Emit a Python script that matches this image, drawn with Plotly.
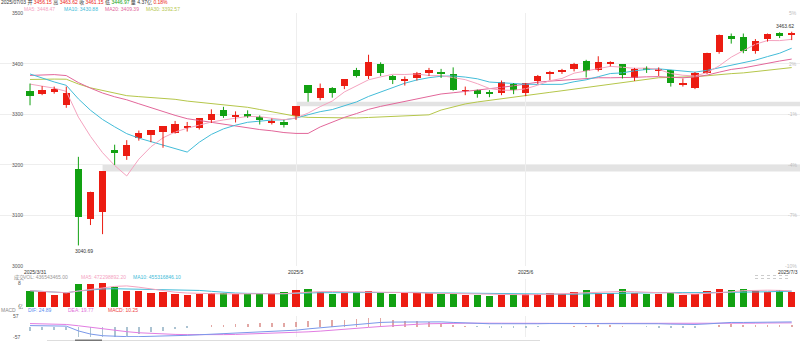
import plotly.graph_objects as go
import pandas as pd

# ---------------- data ----------------
dates = ["2025-03-31", "2025-04-01", "2025-04-02", "2025-04-03", "2025-04-07", "2025-04-08",
         "2025-04-09", "2025-04-10", "2025-04-11", "2025-04-14", "2025-04-15", "2025-04-16",
         "2025-04-17", "2025-04-18", "2025-04-21", "2025-04-22", "2025-04-23", "2025-04-24",
         "2025-04-25", "2025-04-28", "2025-04-29", "2025-04-30", "2025-05-06", "2025-05-07",
         "2025-05-08", "2025-05-09", "2025-05-12", "2025-05-13", "2025-05-14", "2025-05-15",
         "2025-05-16", "2025-05-19", "2025-05-20", "2025-05-21", "2025-05-22", "2025-05-23",
         "2025-05-26", "2025-05-27", "2025-05-28", "2025-05-29", "2025-05-30", "2025-06-03",
         "2025-06-04", "2025-06-05", "2025-06-06", "2025-06-09", "2025-06-10", "2025-06-11",
         "2025-06-12", "2025-06-13", "2025-06-16", "2025-06-17", "2025-06-18", "2025-06-19",
         "2025-06-20", "2025-06-23", "2025-06-24", "2025-06-25", "2025-06-26", "2025-06-27",
         "2025-06-30", "2025-07-01", "2025-07-02", "2025-07-03"]

opens = [3345, 3340, 3344, 3318, 3191, 3092, 3106, 3228, 3218, 3252, 3259, 3264,
         3263, 3272, 3273, 3289, 3309, 3295, 3301, 3294, 3283, 3285, 3297, 3357,
         3331, 3352, 3356, 3388, 3376, 3400, 3376, 3366, 3372, 3381, 3384, 3379,
         3346, 3348, 3342, 3341, 3360, 3341, 3366, 3379, 3385, 3389, 3405, 3387,
         3400, 3399, 3371, 3390, 3387, 3387, 3359.5, 3351, 3382, 3422, 3455, 3452,
         3425, 3449, 3460, 3456.15]
highs = [3361, 3356, 3355, 3355, 3216, 3147, 3187, 3240, 3249, 3268, 3268, 3277,
         3287, 3285, 3292, 3310, 3315, 3306, 3308, 3298, 3292, 3289, 3316, 3358,
         3361, 3354, 3370, 3392, 3418, 3403, 3378, 3375, 3384, 3392, 3390, 3393,
         3355, 3349, 3348, 3367, 3362, 3362, 3378, 3386, 3390, 3402, 3408, 3415,
         3405, 3399, 3392, 3395, 3393, 3388, 3371, 3384, 3422, 3458, 3460, 3460,
         3449, 3460, 3462.5, 3463.62]
lows = [3318, 3338, 3341, 3313, 3040.69, 3081, 3063, 3200, 3210, 3248, 3245, 3234,
        3262, 3266, 3270, 3283, 3293, 3284, 3293, 3280, 3280, 3274, 3289, 3325,
        3328, 3333, 3350, 3373, 3370, 3376, 3360, 3357, 3367, 3376, 3372, 3347,
        3338, 3333, 3334, 3338, 3340, 3336, 3360, 3368, 3380, 3385, 3373, 3385,
        3395, 3371, 3366, 3382, 3376, 3355, 3355, 3350, 3380, 3420, 3440, 3421,
        3420, 3444, 3451, 3446.97]
closes = [3335.75, 3348.44, 3350.13, 3342.01, 3096.58, 3145.55, 3186.81, 3223.64,
          3238.23, 3262.81, 3267.66, 3276.00, 3280.34, 3276.73, 3291.43, 3299.76,
          3296.36, 3297.29, 3295.06, 3288.41, 3286.65, 3279.03, 3316.11, 3342.67,
          3352.00, 3342.00, 3369.24, 3374.87, 3403.95, 3380.82, 3367.46, 3367.58,
          3380.48, 3387.57, 3380.19, 3348.37, 3346.84, 3340.69, 3339.93, 3363.45,
          3347.49, 3361.98, 3376.20, 3384.10, 3385.36, 3399.77, 3384.82, 3402.32,
          3402.66, 3377.00, 3388.81, 3387.40, 3388.81, 3362.11, 3359.90, 3381.58,
          3420.57, 3455.97, 3448.45, 3424.23, 3444.43, 3457.75, 3454.79, 3461.15]
# closes of the 29 sessions before 2025-03-31 (moving-average warm-up)
prior_closes = [3324.49, 3351.54, 3350.78, 3379.11, 3373.03, 3346.04, 3380.21, 3388.06,
                3320.90, 3316.93, 3324.21, 3341.96, 3381.10, 3372.55, 3366.16, 3379.83,
                3371.92, 3358.73, 3419.56, 3426.13, 3429.76, 3426.43, 3408.95, 3364.83,
                3370.03, 3369.98, 3368.70, 3373.75, 3351.31]
# volume, 亿
volumes = [4.73, 4.28, 3.52, 4.08, 6.54, 6.54, 6.82, 5.77, 4.73, 4.73, 4.00, 4.28,
           3.80, 3.61, 3.80, 4.00, 4.00, 3.80, 3.80, 3.80, 3.80, 4.28, 4.85, 5.21,
           4.28, 3.89, 4.17, 4.28, 4.65, 4.28, 3.89, 4.00, 4.00, 4.00, 3.89, 3.89,
           3.52, 3.52, 3.32, 3.52, 3.72, 3.89, 3.72, 4.00, 3.72, 4.37, 4.93, 4.08,
           4.08, 5.21, 4.00, 3.80, 3.72, 4.17, 3.52, 3.80, 4.65, 5.13, 4.93, 5.21,
           4.65, 4.45, 4.85, 4.36543465]
dif = [5, 5, 4, 2, -24, -41, -50, -54, -55, -55,
       -54, -52, -50, -48, -45, -42, -39, -36, -33, -31, -29, -27,
       -20, -13, -7, -3,
       3, 10, 18, 22, 24, 25, 26, 26, 25, 22,
       19, 17, 15, 15, 14, 14, 15, 16, 16, 17,
       17, 18, 19, 18, 17, 16, 15, 13, 11, 11,
       14, 19, 22, 22, 23, 24, 24, 24.89]
dea = [16, 15, 13, 11, 4, -5, -14, -22, -28, -34,
       -38, -41, -43, -44, -45, -45, -44, -43, -41, -40, -38, -36,
       -33, -29, -25, -21,
       -16, -11, -5, 0, 5, 9, 12, 15, 17, 18,
       18, 18, 17.5, 17, 16.5, 16, 16, 16, 16, 16,
       16, 16.5, 17, 17, 17, 17, 16.5, 16, 15, 14,
       14, 15, 16, 17, 18, 19, 19.5, 19.77]
gap_dates = ["2025-04-09", "2025-05-06"]          # unfilled up-gaps (after these sessions)
price_ticks = [3500, 3400, 3300, 3200, 3100, 3000]
pct_ticks = ["5%", "2%", "-1%", "-4%", "-7%", "-10%"]
label_dates = ["2025-03-31", "2025-05-06", "2025-06-03", "2025-07-03"]
label_texts = ["2025/3/31", "2025/5", "2025/6", "2025/7/3"]
vol_header = ["成交", "VOL: 436543465.00", "MA5: 472298892.20", "MA10: 455316846.10"]
macd_header = ["MACD", "DIF: 24.89", "DEA: 19.77", "MACD: 10.25"]

# ---------------- derived ----------------
W, H = 800, 341
RED, GREEN = "#ec1c12", "#12a112"
C_MA5, C_MA10, C_MA20, C_MA30 = "#f4a3bf", "#43bcd8", "#e2679a", "#b5c64a"
C_DIF, C_DEA = "#7a98ea", "#e27de2"
FONT = "Liberation Sans, Noto Sans CJK SC, sans-serif"

n = len(dates)
idx = list(range(n))
pos = {d: i for i, d in enumerate(dates)}
all_c = pd.Series(prior_closes + closes)
ma = {w: all_c.rolling(w).mean().iloc[-n:].tolist() for w in (5, 10, 20, 30)}
vs = pd.Series(volumes)
vma5 = vs.rolling(5, min_periods=1).mean().tolist()
vma10 = vs.rolling(10, min_periods=1).mean().tolist()
up = [c >= o for o, c in zip(opens, closes)]
cols = [RED if u else GREEN for u in up]
hist = [2 * (a - b) for a, b in zip(dif, dea)]

x_range = [-30 / 12.08, (n - 1) + 8.3 / 12.08]


def py(px):
    return 1 - px / H


dom_price = [py(266), py(13.3)]
dom_vol = [py(307.5), py(279.1)]
dom_macd = [py(337), py(316)]

fig = go.Figure()

# moving averages
for w, c in ((30, C_MA30), (20, C_MA20), (10, C_MA10), (5, C_MA5)):
    fig.add_trace(go.Scatter(x=idx, y=ma[w], mode="lines", line=dict(color=c, width=1),
                             hoverinfo="skip", xaxis="x", yaxis="y"))

# wicks
for flag, c in ((True, RED), (False, GREEN)):
    wx, wy = [], []
    for i in idx:
        if up[i] == flag:
            wx += [i, i, None]
            wy += [lows[i], highs[i], None]
    fig.add_trace(go.Scatter(x=wx, y=wy, mode="lines", line=dict(color=c, width=1),
                             hoverinfo="skip", xaxis="x", yaxis="y"))

# bodies
bases = [min(o, c) for o, c in zip(opens, closes)]
heights = [max(abs(c - o), 1.3) for o, c in zip(opens, closes)]
fig.add_trace(go.Bar(x=idx, y=heights, base=bases, width=0.6, marker=dict(color=cols, line=dict(width=0)),
                     hoverinfo="skip", xaxis="x", yaxis="y"))

# volume
fig.add_trace(go.Bar(x=idx, y=volumes, width=0.6, marker=dict(color=cols, line=dict(width=0)),
                     hoverinfo="skip", xaxis="x2", yaxis="y2"))
fig.add_trace(go.Scatter(x=idx, y=vma10, mode="lines", line=dict(color=C_MA10, width=1),
                         hoverinfo="skip", xaxis="x2", yaxis="y2"))
fig.add_trace(go.Scatter(x=idx, y=vma5, mode="lines", line=dict(color=C_MA5, width=1),
                         hoverinfo="skip", xaxis="x2", yaxis="y2"))

# MACD
fig.add_trace(go.Bar(x=idx, y=hist, width=0.06, opacity=0.75,
                     marker=dict(color=["#d98a86" if h >= 0 else "#8fb0c4" for h in hist], line=dict(width=0)),
                     hoverinfo="skip", xaxis="x3", yaxis="y3"))
fig.add_trace(go.Scatter(x=idx, y=dea, mode="lines", line=dict(color=C_DEA, width=1),
                         hoverinfo="skip", xaxis="x3", yaxis="y3"))
fig.add_trace(go.Scatter(x=idx, y=dif, mode="lines", line=dict(color=C_DIF, width=1),
                         hoverinfo="skip", xaxis="x3", yaxis="y3"))

# gap bands
shapes = []
for d in gap_dates:
    i = pos[d]
    shapes.append(dict(type="rect", xref="x", yref="y", x0=i, x1=x_range[1],
                       y0=highs[i], y1=lows[i + 1], fillcolor="#e3e3e3", line=dict(width=0), layer="below"))
# navigator remnants at the bottom
shapes.append(dict(type="line", xref="paper", yref="paper", x0=47 / W, x1=540 / W, y0=py(340.5), y1=py(340.5),
                   line=dict(color="#dddddd", width=1)))
shapes.append(dict(type="line", xref="paper", yref="paper", x0=75 / W, x1=102 / W, y0=py(340.5), y1=py(340.5),
                   line=dict(color="#777777", width=2)))
for yy in (275.5, 278.5):
    shapes.append(dict(type="line", xref="paper", yref="paper", x0=755 / W, x1=790 / W, y0=py(yy), y1=py(yy),
                       line=dict(color="#cccccc", width=1, dash="dot")))

ann = []


def txt(x, y, s, color="#555", xanchor="left", size=5, **kw):
    d = dict(x=x, y=y, text=s, showarrow=False, xanchor=xanchor, yanchor="middle",
             font=dict(family=FONT, size=size, color=color), borderpad=0)
    d.update(kw)
    if "xref" not in d:
        d["xref"] = "paper"
    if "yref" not in d:
        d["yref"] = "paper"
    ann.append(d)


# header line 1
prev_c = closes[-2]


def pc(v):
    return RED if v >= prev_c else GREEN


d_last = dates[-1].replace("-", "/")
line1 = (f"{d_last} 开 <span style='color:{pc(opens[-1])}'>{opens[-1]:.2f}</span> "
         f"高 <span style='color:{pc(highs[-1])}'>{highs[-1]:.2f}</span> "
         f"收 <span style='color:{pc(closes[-1])}'>{closes[-1]:.2f}</span> "
         f"低 <span style='color:{pc(lows[-1])}'>{lows[-1]:.2f}</span> "
         f"量 {volumes[-1]:.2f}亿 "
         f"<span style='color:{pc(closes[-1])}'>{(closes[-1] / prev_c - 1) * 100:.2f}%</span>")
txt(0, py(2.6), line1, color="#333")
for xp, w, c in ((23, 5, C_MA5), (63, 10, C_MA10), (104, 20, C_MA20), (145, 30, C_MA30)):
    txt(xp / W, py(8.8), f"MA{w}: {ma[w][-1]:.2f}", color=c)

# price tick labels (left) and percentage labels (right)
for p, pct in zip(price_ticks, pct_ticks):
    txt(11 / W, p, str(p), yref="y", color="#555")
    txt(798 / W, p, pct, yref="y", color="#bdbdbd", xanchor="right")

# extreme labels
imin = min(idx, key=lambda i: lows[i])
imax = max(idx, key=lambda i: highs[i])
ann.append(dict(x=imin, y=lows[imin], xref="x", yref="y", text=f"{lows[imin]:.2f}", showarrow=False,
                xanchor="left", yanchor="top", xshift=-5, yshift=-1,
                font=dict(family=FONT, size=5, color="#333")))
ann.append(dict(x=imax, y=highs[imax], xref="x", yref="y", text=f"{highs[imax]:.2f}", showarrow=False,
                xanchor="right", yanchor="bottom", xshift=4, yshift=1,
                font=dict(family=FONT, size=5, color="#333")))

# date labels
for k, (d, t) in enumerate(zip(label_dates, label_texts)):
    i = pos[d]
    if k == 0:
        anchor, sh = "left", -7
    elif k == len(label_dates) - 1:
        anchor, sh = "right", 7
    else:
        anchor, sh = "center", 0
    txt(i, py(271.5), t, xref="x", xanchor=anchor, xshift=sh, color="#333")

# volume header
for xp, s, c in ((13, vol_header[0], "#888"), (22, vol_header[1], "#999"),
                 (80, vol_header[2], C_MA5), (132, vol_header[3], C_MA10)):
    txt(xp / W, py(277.3), s, color=c)
txt(22 / W, py(282.8), "8", color="#555", xanchor="right")
txt(24 / W, py(306), "亿", color="#555", xanchor="right")

# macd header
for xp, s, c in ((0, macd_header[0], "#888"), (27, macd_header[1], "#5b8def"),
                 (67, macd_header[2], "#e070d8"), (107, macd_header[3], "#e44")):
    txt(xp / W, py(309.5), s, color=c)
txt(20 / W, py(315.8), "57", color="#555", xanchor="right")
txt(21 / W, py(337), "-57", color="#555", xanchor="right")

grid_idx = [pos[d] for d in label_dates[1:-1]]
xcommon = dict(range=x_range, tickvals=grid_idx, showticklabels=False, showgrid=True, gridcolor="#eeeeee",
               gridwidth=1, zeroline=False, showline=False, ticks="", fixedrange=True)

fig.update_layout(
    width=W, height=H, margin=dict(l=0, r=0, t=0, b=0),
    paper_bgcolor="white", plot_bgcolor="white", showlegend=False,
    barmode="overlay", bargap=0,
    font=dict(family=FONT, size=5, color="#555"),
    xaxis=dict(domain=[0, 1], anchor="y", **xcommon),
    xaxis2=dict(domain=[0, 1], anchor="y2", matches="x", **xcommon),
    xaxis3=dict(domain=[0, 1], anchor="y3", matches="x", **xcommon),
    yaxis=dict(domain=dom_price, range=[3000, 3500], tickvals=price_ticks[:-1], showticklabels=False,
               showgrid=True, gridcolor="#eeeeee", zeroline=False, ticks=""),
    yaxis2=dict(domain=dom_vol, range=[0, 8], tickvals=[8], showticklabels=False,
                showgrid=True, gridcolor="#eeeeee", zeroline=False, ticks=""),
    yaxis3=dict(domain=dom_macd, range=[-57, 57], showticklabels=False, showgrid=False,
                zeroline=False, ticks=""),
    shapes=shapes, annotations=ann,
)

fig.write_html("out.html")
